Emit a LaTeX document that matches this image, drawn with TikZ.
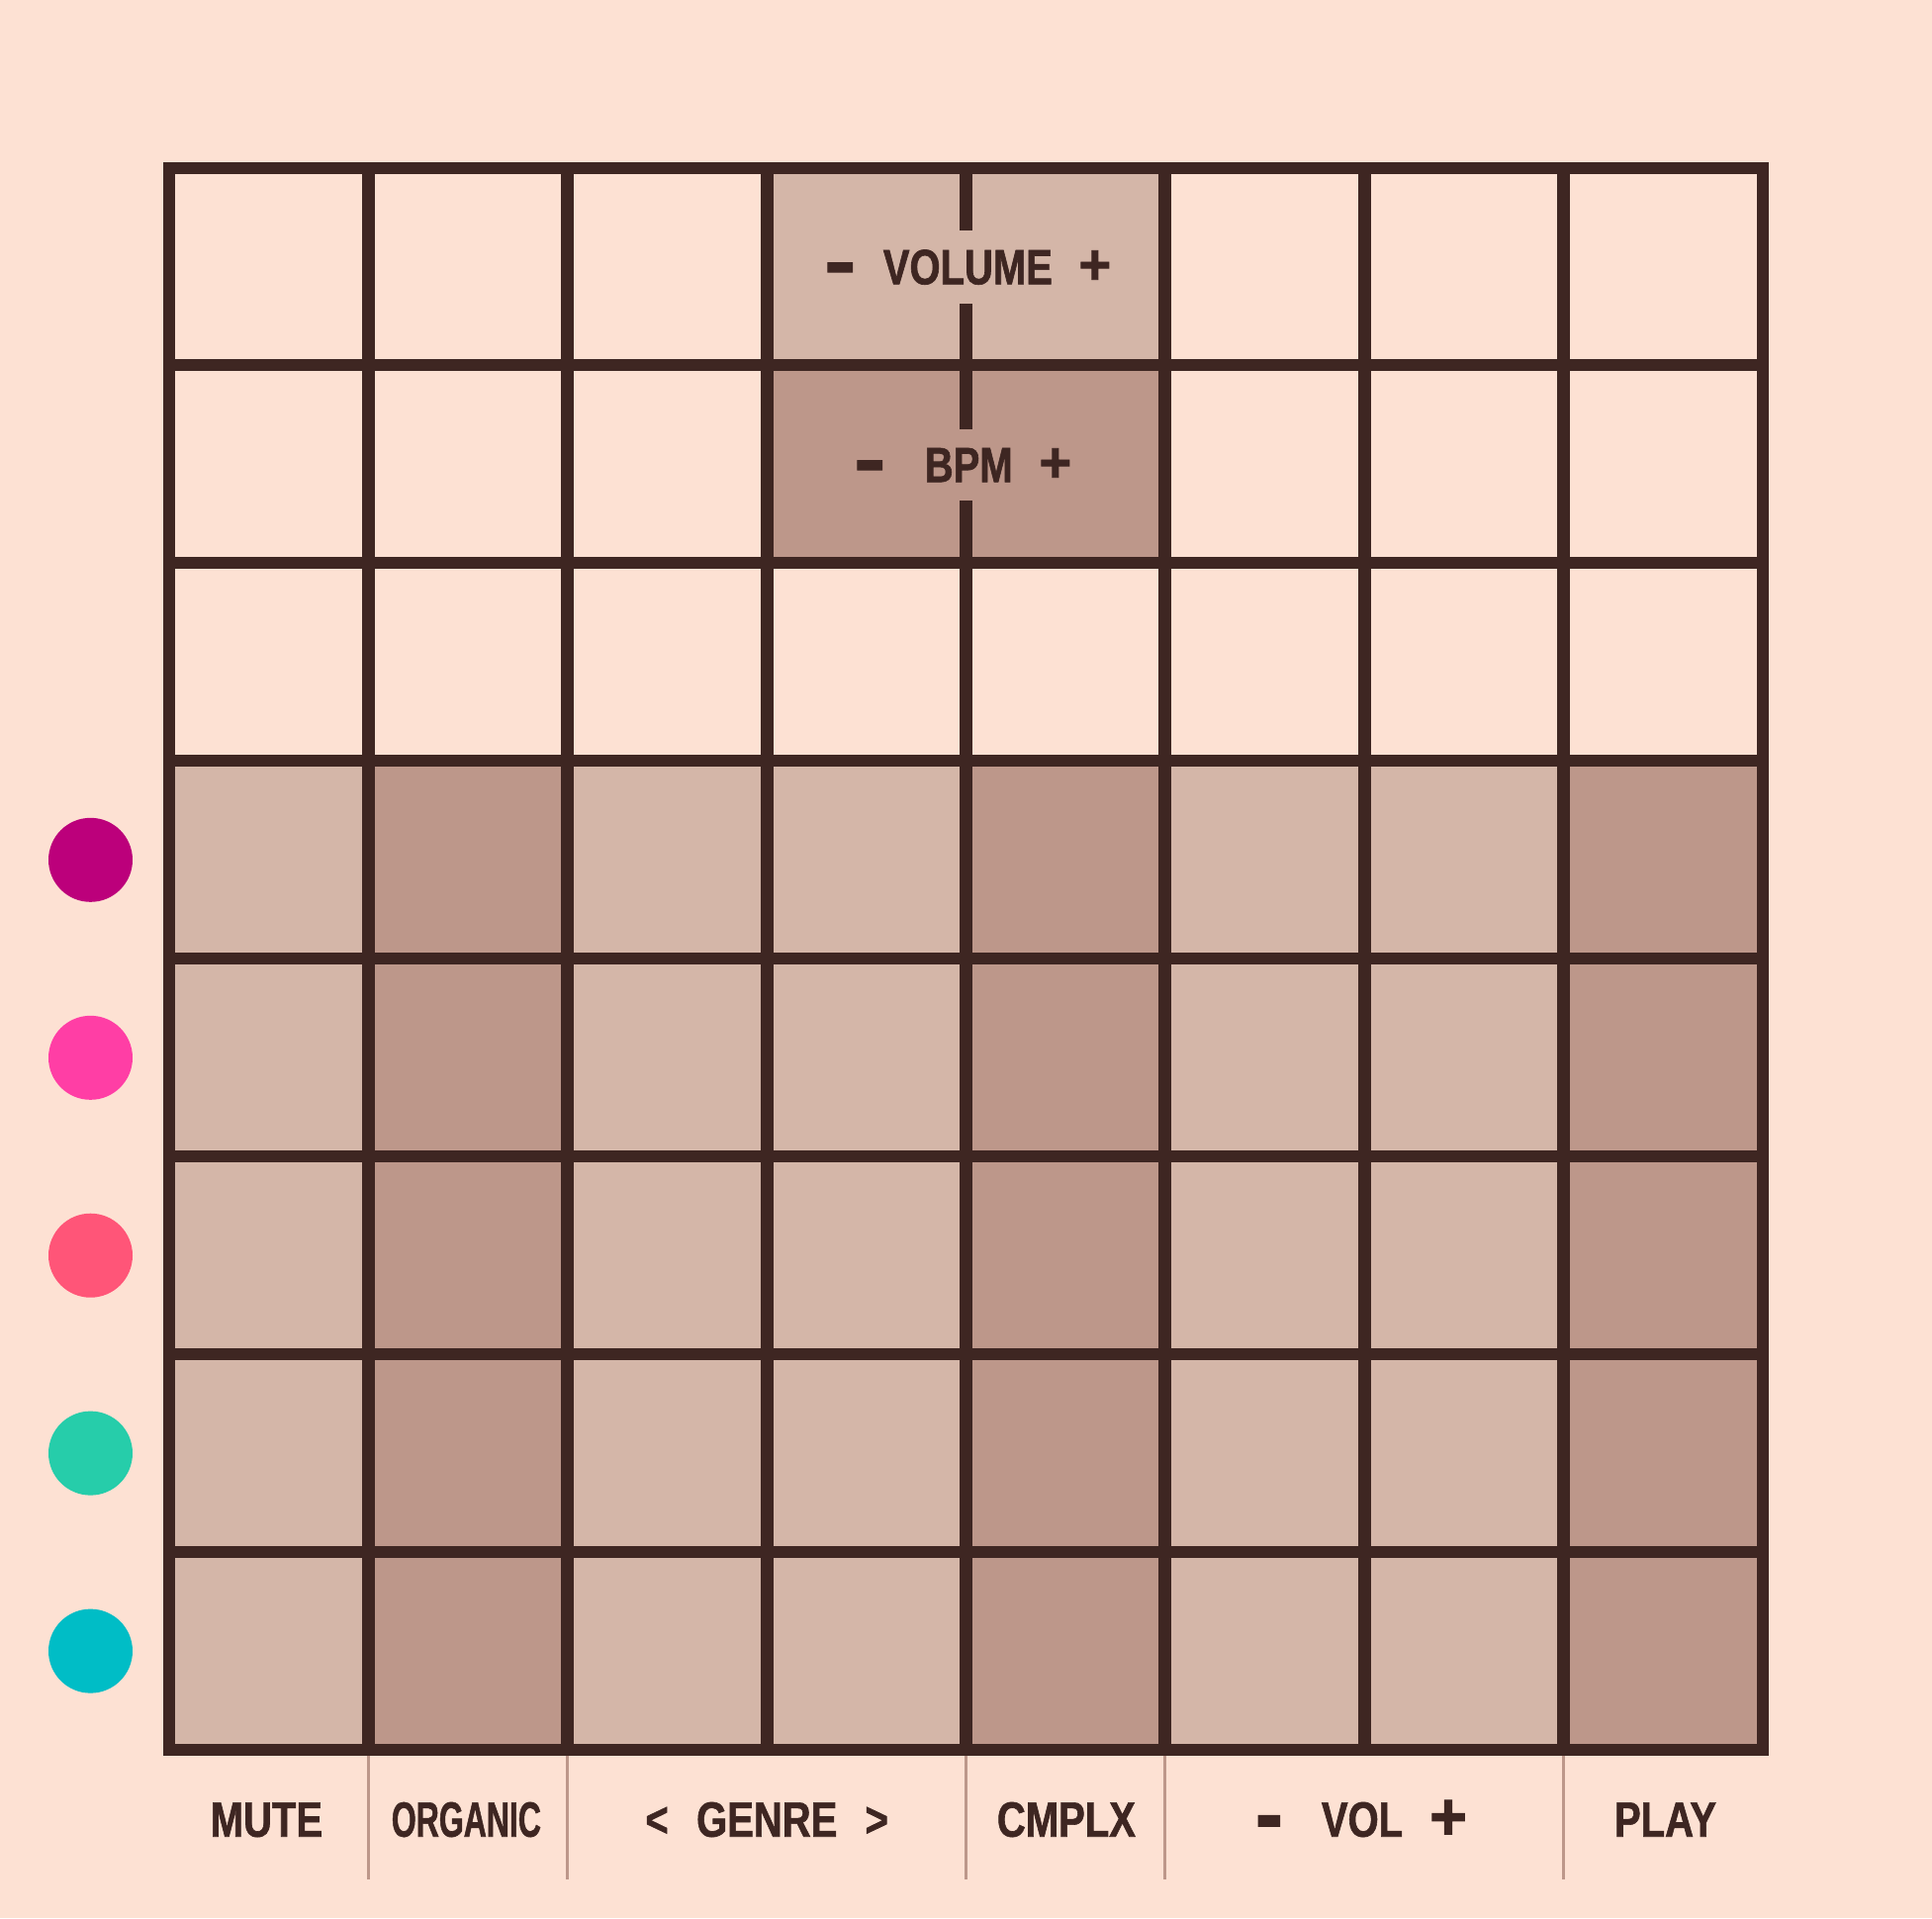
\documentclass[tikz,border=0pt]{standalone}
\usepackage{fontspec}
\usepackage{graphicx}
\newfontfamily\labfont[FakeStretch=0.8, FakeBold=1.2]{Liberation Sans Bold}
\definecolor{bgc}{HTML}{FDE1D3}
\definecolor{ink}{HTML}{3E2622}
\definecolor{cellA}{HTML}{D4B6A8}
\definecolor{cellB}{HTML}{BD978A}
\definecolor{sepc}{HTML}{BD978A}
\definecolor{dotA}{HTML}{BC007B}
\definecolor{dotB}{HTML}{FF3EA5}
\definecolor{dotC}{HTML}{FF5578}
\definecolor{dotD}{HTML}{26CDAA}
\definecolor{dotE}{HTML}{00BDC6}
\newcommand\putat[2]{\makebox[0pt][l]{\hspace*{#1pt}\makebox[0pt][c]{#2}}}
\newcommand\tminus{\smash{\raisebox{-3.8pt}{\scalebox{2.4}[1.6]{-}}}}
\newcommand\tplus{\smash{\scalebox{1.4}[1.16]{+}}}
\newcommand\bminus{\smash{\raisebox{-7.5pt}{\scalebox{2.1}[1.8]{-}}}}
\newcommand\bplus{\smash{\raisebox{-3pt}{\scalebox{1.62}[1.36]{+}}}}
\tikzset{
  hline/.style={draw=ink, line width=12pt},
  vline/.style={draw=ink, line width=13pt},
  border/.style={draw=ink, line width=12pt, line join=miter},
  sepline/.style={draw=sepc, line width=3pt},
  lbl/.style={font=\labfont\fontsize{50pt}{50pt}\selectfont, text=ink, inner sep=0pt, anchor=base},
  dot/.style={circle, inner sep=0pt, minimum size=85pt},
}
\begin{document}
\begin{tikzpicture}[x=1pt,y=-1pt]
\fill[bgc] (0,0) rectangle (1953,1939);
\useasboundingbox (0,0) rectangle (1953,1939);
% shaded cells
\fill[cellA] (775.1,169.5) rectangle (1177.9,369.4);
\fill[cellB] (775.1,369.4) rectangle (1177.9,569.4);
\foreach \r in {3,...,7} {
  \foreach \c/\col in {0/cellA,1/cellB,2/cellA,3/cellA,4/cellB,5/cellA,6/cellA,7/cellB} {
    \fill[\col] ({171+201.375*\c},{169.5+199.94*\r}) rectangle ({171+201.375*(\c+1)},{169.5+199.94*(\r+1)});
  }
}
% grid lines
\foreach \r in {1,...,7} \draw[hline] (171,{169.5+199.94*\r}) -- (1782,{169.5+199.94*\r});
\foreach \c in {1,...,7} \draw[vline] ({171+201.375*\c},169.5) -- ({171+201.375*\c},1769);
\draw[border] (171,169.5) rectangle (1782,1769);
% top labels
\node[lbl, fill=cellA, minimum height=73.3pt] (volume) at (978.7,287.3)
  {\putat{12.5}{\tminus}\putat{141.65}{VOLUME}\putat{270.15}{\tplus}\hspace*{284pt}};
\node[lbl, fill=cellB, minimum height=72.3pt] (bpm) at (973.7,487.3)
  {\putat{12.5}{\tminus}\putat{112.5}{BPM}\putat{200.15}{\tplus}\hspace*{214pt}};
% row dots
\node[dot, fill=dotA] (d1) at (91.5,869.3) {};
\node[dot, fill=dotB] (d2) at (91.5,1069.3) {};
\node[dot, fill=dotC] (d3) at (91.5,1269.2) {};
\node[dot, fill=dotD] (d4) at (91.5,1469.1) {};
\node[dot, fill=dotE] (d5) at (91.5,1669.1) {};
% separators
\foreach \x in {372.4,573.75,976.5,1177.9,1580.6} \draw[sepline] (\x,1775) -- (\x,1900);
% bottom labels
\node[lbl] (mute) at (269.4,1856.7) {MUTE};
\node[lbl] (organic) at (471.4,1856.7) {\scalebox{0.8}[1]{ORGANIC}};
\node[lbl] (genre) at (775.2,1856.7)
  {\putat{10.5}{<}\putat{121.65}{GENRE}\putat{232.6}{>}\hspace*{243.2pt}};
\node[lbl] (cmplx) at (1077.9,1856.7) {CMPLX};
\node[lbl] (vol) at (1376,1856.7)
  {\putat{10.9}{\bminus}\putat{105}{VOL}\putat{192}{\bplus}\hspace*{208pt}};
\node[lbl] (play) at (1683.5,1856.7) {PLAY};
\end{tikzpicture}
\end{document}
